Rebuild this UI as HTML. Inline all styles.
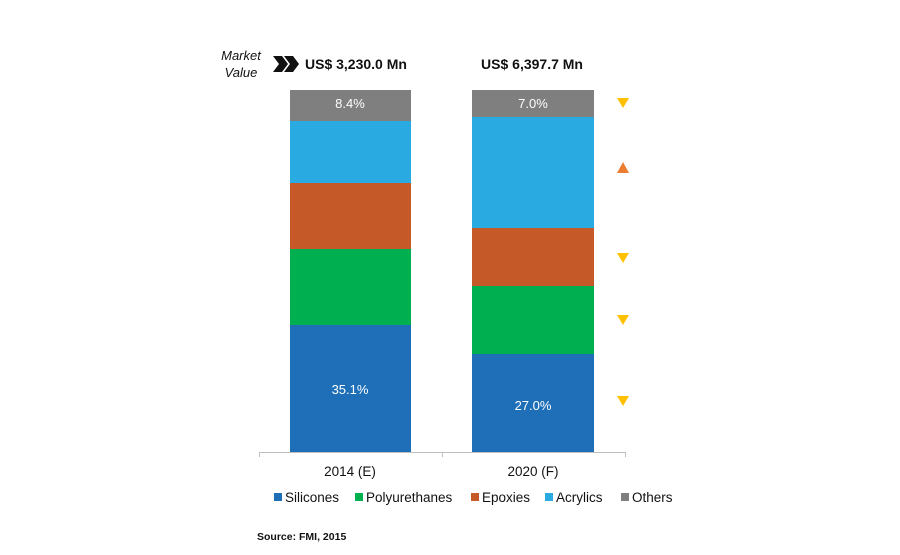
<!DOCTYPE html>
<html><head><style>
body{margin:0;background:#fff;}
text{font-family:"Liberation Sans",sans-serif;}
</style></head><body>
<svg width="900" height="550" xmlns="http://www.w3.org/2000/svg">
<text x="241" y="60" font-size="13" font-style="italic" text-anchor="middle" fill="#111">Market</text>
<text x="241" y="77" font-size="13" font-style="italic" text-anchor="middle" fill="#111">Value</text>
<polygon points="273,56 282,56 288,64 282,72 273,72 279,64" fill="#111"/>
<polygon points="284,56 293,56 299,64 293,72 284,72 290,64" fill="#111"/>
<text x="305" y="69" font-size="14" font-weight="bold" fill="#111">US$ 3,230.0 Mn</text>
<text x="532" y="69" font-size="14" font-weight="bold" text-anchor="middle" fill="#111">US$ 6,397.7 Mn</text>
<g>
<rect x="290" y="90" width="121" height="31" fill="#7f7f7f"/>
<rect x="290" y="121" width="121" height="62" fill="#29abe2"/>
<rect x="290" y="183" width="121" height="66" fill="#c55a28"/>
<rect x="290" y="249" width="121" height="76" fill="#00b050"/>
<rect x="290" y="325" width="121" height="127" fill="#1e6fb8"/>
<rect x="472" y="90" width="122" height="27" fill="#7f7f7f"/>
<rect x="472" y="117" width="122" height="111" fill="#29abe2"/>
<rect x="472" y="228" width="122" height="58" fill="#c55a28"/>
<rect x="472" y="286" width="122" height="68" fill="#00b050"/>
<rect x="472" y="354" width="122" height="98" fill="#1e6fb8"/>
</g>
<text x="350" y="108" font-size="13" fill="#fff" text-anchor="middle">8.4%</text>
<text x="533" y="108" font-size="13" fill="#fff" text-anchor="middle">7.0%</text>
<text x="350" y="394" font-size="13" fill="#fff" text-anchor="middle">35.1%</text>
<text x="533" y="410" font-size="13" fill="#fff" text-anchor="middle">27.0%</text>
<g stroke="#bfbfbf" stroke-width="1">
<line x1="259" y1="452.5" x2="626" y2="452.5"/>
<line x1="259.5" y1="452" x2="259.5" y2="457"/>
<line x1="442.5" y1="452" x2="442.5" y2="457"/>
<line x1="625.5" y1="452" x2="625.5" y2="457"/>
</g>
<text x="350" y="476" font-size="13.5" text-anchor="middle" fill="#111">2014 (E)</text>
<text x="533" y="476" font-size="13.5" text-anchor="middle" fill="#111">2020 (F)</text>
<g fill="#ffc000"><polygon points="617,98 629,98 623,108"/><polygon points="617,253 629,253 623,263"/><polygon points="617,315 629,315 623,325"/><polygon points="617,396 629,396 623,406"/></g>
<polygon points="617,173 629,173 623,162" fill="#ed7d31"/>
<g font-size="13.5" fill="#111">
<rect x="274" y="493" width="8" height="8" fill="#1e6fb8"/><text x="285" y="502">Silicones</text>
<rect x="355" y="493" width="8" height="8" fill="#00b050"/><text x="366" y="502">Polyurethanes</text>
<rect x="471" y="493" width="8" height="8" fill="#c55a28"/><text x="482" y="502">Epoxies</text>
<rect x="545" y="493" width="8" height="8" fill="#29abe2"/><text x="556" y="502">Acrylics</text>
<rect x="621" y="493" width="8" height="8" fill="#7f7f7f"/><text x="632" y="502">Others</text>
</g>
<text x="257" y="540" font-size="10.5" font-weight="bold" fill="#111">Source: FMI, 2015</text>
</svg>
</body></html>
